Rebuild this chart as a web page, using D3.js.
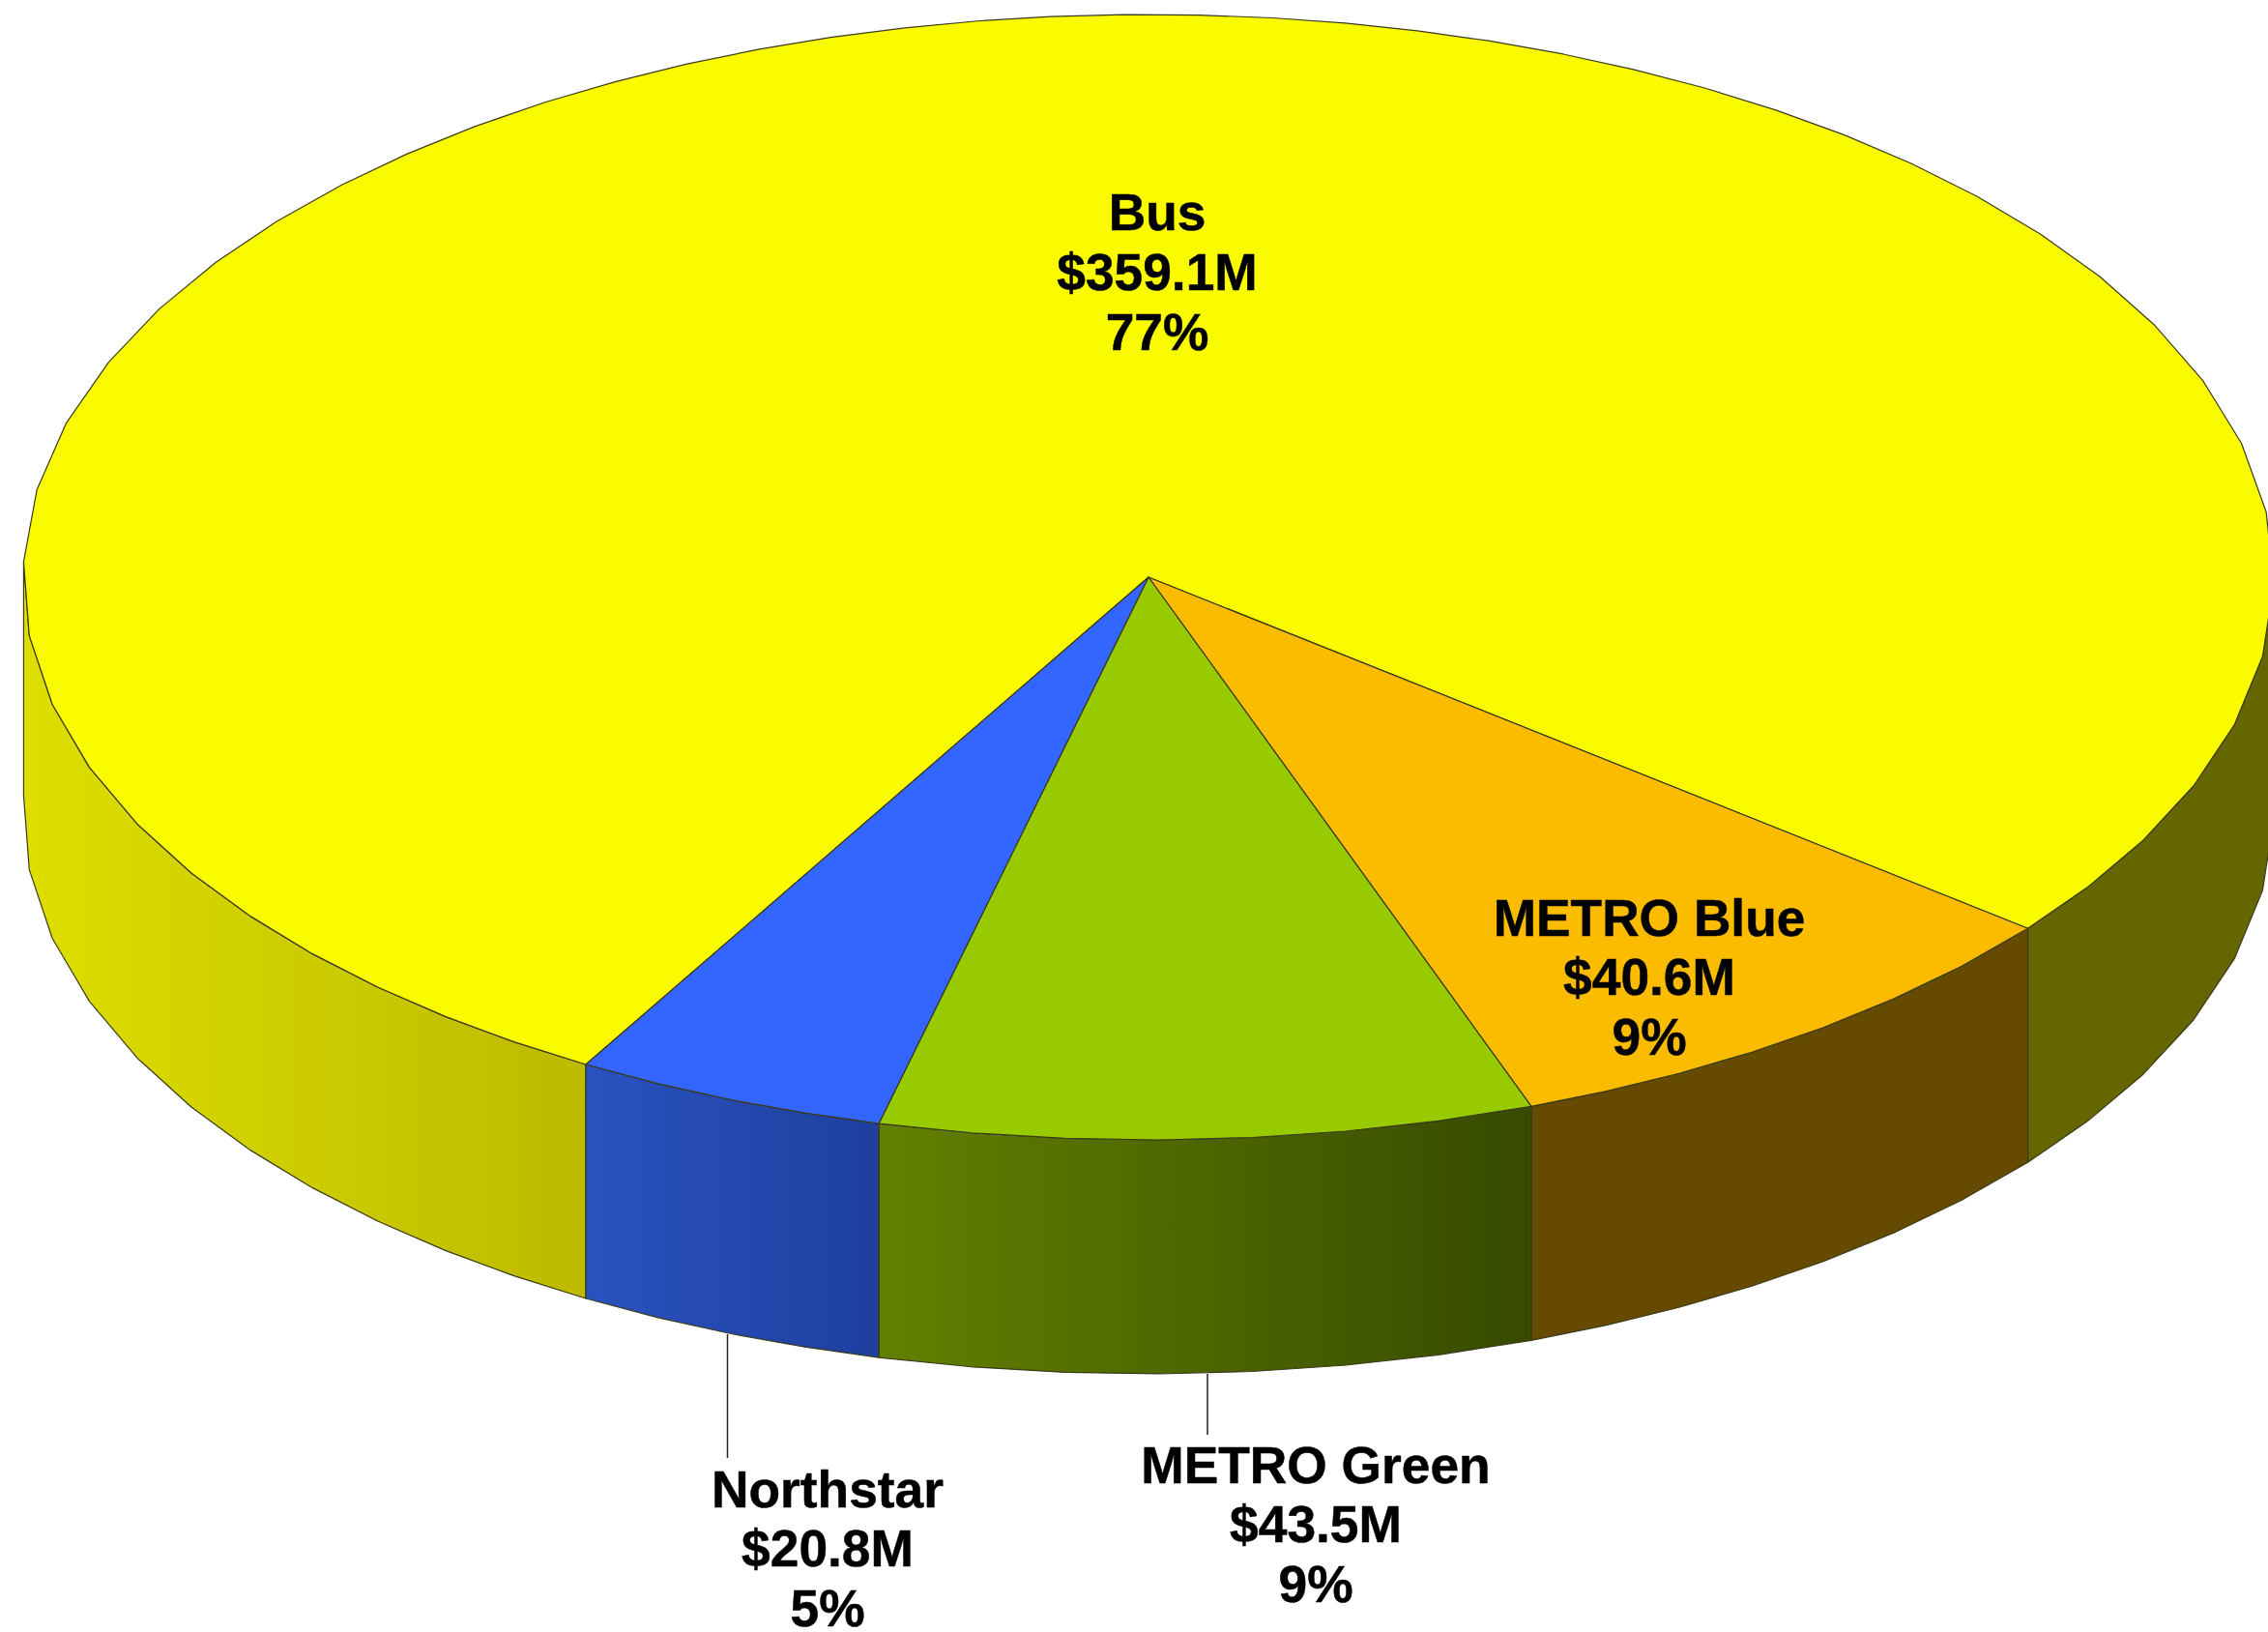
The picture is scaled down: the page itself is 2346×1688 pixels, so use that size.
<!doctype html>
<html>
<head>
    <meta charset="utf-8">
    <title>Transit funding</title>
    <style>
        html, body { margin: 0; padding: 0; background: white; }
        svg { display: block; }
        .label {
            text-anchor: middle;
            font: bold 53.3px "Liberation Sans", Arial, sans-serif;
            fill: black;
            stroke: black;
            stroke-width: 0.5px;
        }
        .leader { stroke: #222; stroke-width: 1.5px; }
        .face { stroke: #3a3a1a; stroke-width: 1.2px; stroke-linejoin: round; }
    </style>
</head>
<body>
<script src="https://cdn.jsdelivr.net/npm/d3@7"></script>
<script>
    const categories = ["Bus", "METRO Blue", "METRO Green", "Northstar"];
    const amounts = [359.1, 40.6, 43.5, 20.8];
    const percentLabels = ["77%", "9%", "9%", "5%"];

    const topColours = ["#fbfb00", "#fbbc00", "#97cb00", "#3366ff"];
    const wallColours = [["#dede00", "#bdba00"], ["#664a00", "#664a00"], ["#628000", "#374a00"], ["#2a52c0", "#1e3f9e"]];
    const rightWallColour = "#666600";
    // facets on the rim, the original is a polygon not a true ellipse
    const rimSteps = [54, 7, 7, 4];

    const width = 2346, height = 1688;
    const centreX = 1188, centreY = 597;
    const radiusX = 1164, radiusY = 582;
    const depth = 242;

    const x = d3.scaleLinear().domain([-1, 1]).range([centreX - radiusX, centreX + radiusX]);
    const y = d3.scaleLinear().domain([-1, 1]).range([centreY - radiusY, centreY + radiusY]);

    const svg = d3.select("body").append("svg")
        .attr("width", width)
        .attr("height", height);
    const defs = svg.append("defs");

    const slices = d3.pie().sort(null).value((d, i) => amounts[i])
        .startAngle(210 * Math.PI / 180)
        .endAngle((210 + 360) * Math.PI / 180)(categories);

    const line = d3.line().x(d => x(d[0])).y(d => y(d[1]));

    // facets are about equal length on screen, so walk the ellipse by arc length
    function rimPoints(s, i) {
        const fine = d3.range(0, 1.0001, 1 / 2000).map(t => {
            const a = s.startAngle + (s.endAngle - s.startAngle) * t;
            return [Math.sin(a), -Math.cos(a)];
        });
        const lengths = [0];
        for (let k = 1; k < fine.length; ++k) {
            const dx = x(fine[k][0]) - x(fine[k - 1][0]);
            const dy = y(fine[k][1]) - y(fine[k - 1][1]);
            lengths[k] = lengths[k - 1] + Math.hypot(dx, dy);
        }
        const total = lengths[lengths.length - 1];
        return d3.range(rimSteps[i] + 1).map(k => {
            const idx = Math.min(d3.bisectLeft(lengths, total * k / rimSteps[i]), fine.length - 1);
            return fine[idx];
        });
    }

    function wallPath(points) {
        const top = line(points);
        const bottom = points.slice().reverse().map(p => `L${x(p[0])},${y(p[1]) + depth}`).join("");
        return `${top}${bottom}Z`;
    }

    function gradient(id, points, colours) {
        const g = defs.append("linearGradient")
            .attr("id", id)
            .attr("gradientUnits", "userSpaceOnUse")
            .attr("x1", x(d3.min(points, p => p[0])))
            .attr("x2", x(d3.max(points, p => p[0])))
            .attr("y1", 0)
            .attr("y2", 0);
        g.append("stop").attr("offset", 0).attr("stop-color", colours[0]);
        g.append("stop").attr("offset", 1).attr("stop-color", colours[1]);
        return `url(#${id})`;
    }

    const walls = svg.append("g");
    const tops = svg.append("g");

    slices.forEach((s, i) => {
        const points = rimPoints(s, i);
        if (i === 0) {
            // the bus slice wraps round the back, only the two front ends show
            const leftEnd = d3.leastIndex(points, p => p[0]);
            const rightStart = d3.greatestIndex(points, p => p[0]);
            const left = points.slice(0, leftEnd + 1);
            const right = points.slice(rightStart);
            walls.append("path").attr("class", "face")
                .attr("d", wallPath(left))
                .attr("fill", gradient("wall-bus", left, wallColours[0]));
            walls.append("path").attr("class", "face")
                .attr("d", wallPath(right))
                .attr("fill", rightWallColour);
        } else {
            walls.append("path").attr("class", "face")
                .attr("d", wallPath(points))
                .attr("fill", gradient(`wall-${i}`, points, wallColours[i]));
        }
    });

    slices.forEach((s, i) => {
        const points = rimPoints(s, i);
        tops.append("path").attr("class", "face")
            .attr("d", `M${x(0)},${y(0)}L${line(points).slice(1)}Z`)
            .attr("fill", topColours[i]);
    });

    // leader lines for the two labels that sit outside the pie
    const leaders = [[752.5, 1380, 1508], [1249, 1421, 1484]];
    svg.append("g").selectAll("line")
        .data(leaders)
        .join("line")
        .attr("class", "leader")
        .attr("x1", d => d[0])
        .attr("x2", d => d[0])
        .attr("y1", d => d[1])
        .attr("y2", d => d[2]);

    const labelAnchors = [[1197, 238], [1706, 967.5], [1361, 1533.5], [856, 1558.5]];
    const lineHeight = 61.8;
    categories.forEach((name, i) => {
        const rows = [name, `$${amounts[i].toFixed(1)}M`, percentLabels[i]];
        svg.append("g").selectAll("text")
            .data(rows)
            .join("text")
            .attr("class", "label")
            .attr("x", labelAnchors[i][0])
            .attr("y", (d, k) => labelAnchors[i][1] + k * lineHeight)
            .text(d => d);
    });
</script>
</body>
</html>
